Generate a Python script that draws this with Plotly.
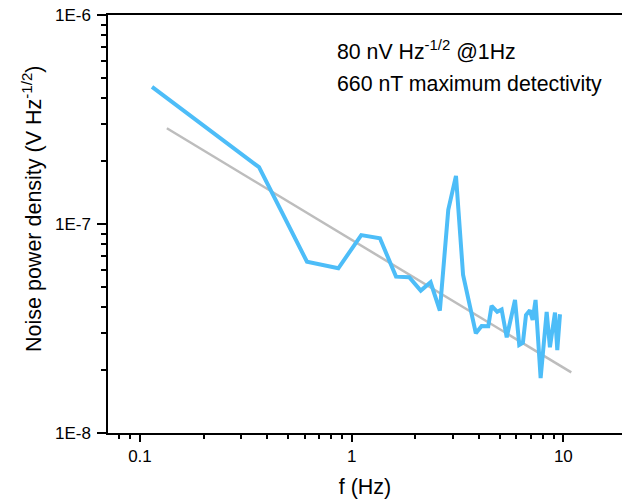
import plotly.graph_objects as go

# Measured noise spectrum
freq = [0.114, 0.365, 0.615, 0.865, 1.11, 1.36, 1.62, 1.87, 2.12, 2.36, 2.61, 2.86, 3.11, 3.36,
        3.86, 4.11, 4.42, 4.58, 4.87, 5.11, 5.40, 5.91, 6.19, 6.44, 6.66, 6.95, 7.16, 7.39,
        7.81, 8.34, 8.64, 9.13, 9.36, 9.64]
noise = [4.53e-7, 1.87e-7, 6.6e-8, 6.14e-8, 8.85e-8, 8.55e-8, 5.6e-8, 5.56e-8, 4.8e-8, 5.26e-8,
         3.85e-8, 1.17e-7, 1.70e-7, 5.7e-8,
         3.0e-8, 3.25e-8, 3.24e-8, 4.06e-8, 3.8e-8, 3.9e-8, 2.87e-8, 4.33e-8, 2.64e-8, 2.7e-8,
         3.67e-8, 3.86e-8, 3.47e-8, 4.33e-8, 1.83e-8, 3.8e-8, 2.57e-8, 3.77e-8, 2.49e-8, 3.7e-8]

# 1/f fit line
fit_freq = [0.134, 10.9]
fit_noise = [2.87e-7, 1.95e-8]

y_tickvals = [1e-8, 1e-7, 1e-6]
y_ticktext = ["1E-8", "1E-7", "1E-6"]
x_tickvals = [0.1, 1, 10]
x_ticktext = ["0.1", "1", "10"]

y_minor = [m * 10.0 ** e for e in (-8, -7) for m in range(2, 10)]
x_minor = [m * 10.0 ** e for e in (-2, -1, 0, 1) for m in range(2, 10)]

FONT = "Arial, Liberation Sans, sans-serif"

fig = go.Figure()
fig.add_trace(go.Scatter(x=fit_freq, y=fit_noise, mode="lines",
                         line=dict(color="#BDBDBD", width=2.5), showlegend=False))
fig.add_trace(go.Scatter(x=freq, y=noise, mode="lines",
                         line=dict(color="#4DBDF8", width=4), showlegend=False))

fig.update_layout(
    width=622, height=499,
    margin=dict(l=108, r=0, t=15, b=66),
    paper_bgcolor="white", plot_bgcolor="white",
    font=dict(family=FONT, color="#000000"),
    xaxis=dict(
        type="log", range=[-1.151, 1.277],
        showgrid=False, zeroline=False,
        showline=True, linecolor="black", linewidth=1.5, mirror=True,
        ticks="outside", ticklen=7, tickwidth=1.5, tickcolor="black",
        tickmode="array", tickvals=x_tickvals, ticktext=x_ticktext,
        tickfont=dict(size=17),
        minor=dict(tickmode="array", tickvals=x_minor, ticks="outside",
                   ticklen=4, tickwidth=1.5, tickcolor="black", showgrid=False),
        title=dict(text="f (Hz)", font=dict(size=21.5), standoff=15),
    ),
    yaxis=dict(
        type="log", range=[-8, -6],
        showgrid=False, zeroline=False,
        showline=True, linecolor="black", linewidth=1.5, mirror=False,
        ticks="outside", ticklen=9, tickwidth=1.5, tickcolor="black",
        tickmode="array", tickvals=y_tickvals, ticktext=y_ticktext,
        tickfont=dict(size=17), ticklabelstandoff=3,
        minor=dict(tickmode="array", tickvals=y_minor, ticks="outside",
                   ticklen=5, tickwidth=1.5, tickcolor="black", showgrid=False),
    ),
    annotations=[
        dict(xref="paper", yref="paper", x=(32 - 108) / 514, y=(433 - 209) / 418,
             xanchor="center", yanchor="middle", textangle=-90,
             text="Noise power density (V Hz<sup>-1/2</sup>)", showarrow=False,
             font=dict(size=21.5)),
        dict(xref="paper", yref="paper", x=0.4416, y=0.914, xanchor="left", yanchor="middle",
             text="80 nV Hz<sup>-1/2</sup> @1Hz", showarrow=False, font=dict(size=21.3)),
        dict(xref="paper", yref="paper", x=0.4416, y=0.835, xanchor="left", yanchor="middle",
             text="660 nT maximum detectivity", showarrow=False, font=dict(size=21.3)),
    ],
)

fig.write_html("out.html")
